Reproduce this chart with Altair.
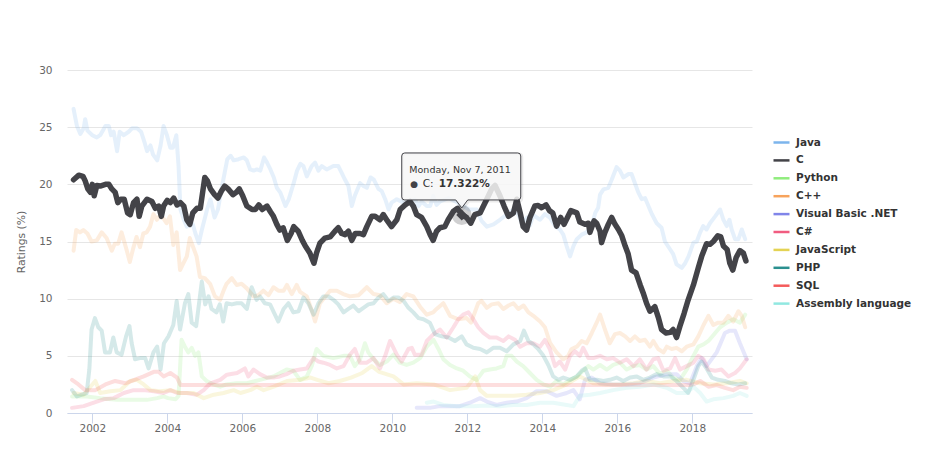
import altair as alt
import pandas as pd

# ---------------- data ----------------
NAMES = ["Java", "C", "Python", "C++", "Visual Basic .NET", "C#",
         "JavaScript", "PHP", "SQL", "Assembly language"]
COLORS = ["#7cb5ec", "#434348", "#90ed7d", "#f7a35c", "#8085e9", "#f15c80",
          "#e4d354", "#2b908f", "#f45b5b", "#91e8e1"]

X_TICKS = [2002, 2004, 2006, 2008, 2010, 2012, 2014, 2016, 2018]
Y_TICKS = [0, 5, 10, 15, 20, 25, 30]

C = [(2001.50,20.4),(2001.64,20.8),(2001.75,20.7),(2001.81,20.3),(2001.88,19.6),(2001.95,19.3),
     (2002.00,20.0),(2002.05,19.0),(2002.12,19.9),(2002.21,19.85),(2002.35,20.0),(2002.44,20.0),
     (2002.52,19.6),(2002.61,19.3),(2002.68,18.4),(2002.76,18.7),(2002.85,18.7),(2002.94,17.5),
     (2003.01,17.35),(2003.10,18.4),(2003.19,18.7),(2003.25,17.2),(2003.32,18.1),(2003.46,18.7),
     (2003.59,18.5),(2003.68,17.9),(2003.77,18.1),(2003.84,17.2),(2003.90,18.1),(2004.00,18.6),
     (2004.08,18.4),(2004.17,18.8),(2004.26,18.2),(2004.35,18.4),(2004.44,18.1),(2004.52,16.9),
     (2004.60,16.5),(2004.68,17.5),(2004.79,17.9),(2004.88,17.9),(2005.00,20.6),(2005.07,20.3),
     (2005.15,19.6),(2005.26,19.1),(2005.35,18.8),(2005.44,19.4),(2005.53,19.85),(2005.62,19.6),
     (2005.75,19.1),(2005.84,19.3),(2005.92,19.6),(2006.01,19.0),(2006.12,18.1),(2006.26,17.8),
     (2006.35,17.8),(2006.44,18.2),(2006.53,17.8),(2006.66,18.1),(2006.75,17.6),(2006.83,17.2),
     (2006.92,16.5),(2007.00,16.0),(2007.09,16.2),(2007.20,15.1),(2007.30,15.7),(2007.37,16.3),
     (2007.49,15.9),(2007.60,15.1),(2007.68,14.6),(2007.80,14.0),(2007.91,13.1),(2007.98,14.0),
     (2008.07,14.85),(2008.20,15.3),(2008.34,15.4),(2008.47,15.9),(2008.56,16.2),(2008.65,15.7),
     (2008.74,15.6),(2008.83,15.9),(2008.92,15.1),(2009.01,15.7),(2009.14,15.7),(2009.23,15.6),
     (2009.32,16.3),(2009.45,17.2),(2009.54,17.2),(2009.67,16.9),(2009.76,17.35),(2009.87,16.8),
     (2009.98,16.3),(2010.12,16.9),(2010.21,17.8),(2010.34,18.2),(2010.47,18.5),(2010.56,18.1),
     (2010.65,17.35),(2010.78,17.1),(2010.92,16.3),(2011.01,15.6),(2011.09,15.1),(2011.18,15.9),
     (2011.27,16.2),(2011.40,16.3),(2011.49,16.9),(2011.63,17.65),(2011.74,17.9),(2011.852,17.322),
     (2011.98,17.1),(2012.09,16.6),(2012.20,17.35),(2012.34,17.5),(2012.43,18.1),(2012.52,18.7),
     (2012.65,19.6),(2012.74,19.9),(2012.87,19.0),(2012.98,18.1),(2013.10,17.2),(2013.23,17.5),
     (2013.32,18.7),(2013.41,17.5),(2013.49,16.3),(2013.58,16.0),(2013.67,17.1),(2013.80,18.1),
     (2013.89,18.15),(2013.98,17.95),(2014.10,18.2),(2014.19,17.7),(2014.28,17.5),(2014.38,16.35),
     (2014.49,17.1),(2014.58,16.5),(2014.67,17.1),(2014.76,17.7),(2014.92,17.5),(2015.00,16.7),
     (2015.14,16.5),(2015.23,16.6),(2015.27,15.8),(2015.38,16.8),(2015.45,16.6),(2015.54,15.9),
     (2015.58,14.9),(2015.67,15.8),(2015.76,16.5),(2015.85,17.1),(2015.94,16.5),(2016.03,16.05),
     (2016.12,15.5),(2016.21,14.6),(2016.29,13.9),(2016.38,12.5),(2016.50,12.25),(2016.61,11.2),
     (2016.69,10.5),(2016.78,9.6),(2016.87,8.9),(2017.00,9.3),(2017.10,8.3),(2017.18,7.3),
     (2017.30,7.0),(2017.41,7.05),(2017.49,7.3),(2017.58,6.6),(2017.67,7.6),(2017.78,8.7),
     (2017.89,9.9),(2018.03,11.2),(2018.16,12.7),(2018.25,13.7),(2018.38,14.8),(2018.47,14.75),
     (2018.56,15.0),(2018.68,15.5),(2018.76,15.4),(2018.83,14.6),(2018.93,14.3),(2019.00,13.1),
     (2019.08,12.5),(2019.17,13.6),(2019.27,14.2),(2019.36,14.0),(2019.43,13.3)]

JAVA = [(2001.50,26.6),(2001.59,25.1),(2001.68,24.4),(2001.77,24.9),(2001.81,25.7),(2001.87,24.7),
        (2002.00,24.3),(2002.12,24.1),(2002.21,24.3),(2002.35,25.1),(2002.44,25.1),(2002.50,24.3),
        (2002.57,24.6),(2002.66,22.9),(2002.73,24.6),(2002.84,24.3),(2002.97,24.6),(2003.06,24.9),
        (2003.19,24.9),(2003.30,24.6),(2003.39,23.7),(2003.46,22.9),(2003.55,23.4),(2003.62,22.6),
        (2003.73,22.1),(2003.82,23.4),(2003.90,25.1),(2003.99,24.3),(2004.08,23.2),(2004.15,23.2),
        (2004.24,24.3),(2004.30,21.6),(2004.35,17.8),(2004.44,16.9),(2004.52,16.3),(2004.68,16.5),
        (2004.75,15.7),(2004.84,14.85),(2004.92,16.0),(2005.06,17.8),(2005.15,18.7),(2005.26,17.1),
        (2005.35,17.8),(2005.46,19.85),(2005.60,22.2),(2005.69,22.5),(2005.77,22.1),(2005.90,22.2),
        (2006.04,22.35),(2006.12,22.1),(2006.21,21.3),(2006.30,21.2),(2006.39,21.3),(2006.48,21.2),
        (2006.58,22.35),(2006.66,21.9),(2006.75,21.3),(2006.84,20.6),(2006.92,19.7),(2007.01,19.3),
        (2007.15,18.1),(2007.24,18.7),(2007.37,20.1),(2007.46,21.2),(2007.55,21.8),(2007.63,21.6),
        (2007.72,20.7),(2007.85,21.6),(2007.94,21.9),(2008.03,21.2),(2008.12,21.6),(2008.25,21.3),
        (2008.43,21.6),(2008.56,21.6),(2008.65,21.0),(2008.74,20.4),(2008.83,19.85),(2008.92,18.1),
        (2009.00,19.0),(2009.14,20.1),(2009.23,19.85),(2009.32,19.7),(2009.42,20.6),(2009.51,20.4),
        (2009.63,19.6),(2009.72,19.4),(2009.81,18.7),(2009.90,17.8),(2009.98,18.4),(2010.12,18.7),
        (2010.30,18.4),(2010.47,18.5),(2010.60,18.7),(2010.70,18.1),(2010.78,18.5),(2010.92,18.1),
        (2011.01,18.1),(2011.09,19.0),(2011.18,18.2),(2011.27,18.5),(2011.50,18.8),(2011.80,18.3),
        (2012.05,17.8),(2012.25,17.8),(2012.38,16.8),(2012.52,16.3),(2012.70,16.5),(2012.87,16.9),
        (2013.05,17.35),(2013.23,17.8),(2013.36,17.35),(2013.45,16.6),(2013.60,17.1),(2013.67,16.4),
        (2013.76,17.3),(2013.94,16.9),(2014.07,17.4),(2014.20,17.1),(2014.34,16.35),(2014.47,16.05),
        (2014.56,15.6),(2014.65,14.6),(2014.74,13.7),(2014.83,14.6),(2014.92,15.2),(2015.05,15.6),
        (2015.18,15.8),(2015.32,16.35),(2015.41,17.5),(2015.49,17.95),(2015.54,19.1),(2015.63,19.56),
        (2015.76,19.7),(2015.85,20.4),(2015.98,21.5),(2016.07,21.2),(2016.16,20.6),(2016.30,20.9),
        (2016.38,20.9),(2016.47,20.1),(2016.56,19.3),(2016.65,18.7),(2016.74,18.8),(2016.83,18.1),
        (2016.92,17.4),(2017.05,16.6),(2017.18,16.2),(2017.27,15.0),(2017.41,14.3),(2017.49,13.9),
        (2017.58,13.0),(2017.72,12.7),(2017.81,13.1),(2017.90,13.7),(2018.03,14.9),(2018.12,15.0),
        (2018.21,15.8),(2018.29,16.35),(2018.38,16.05),(2018.47,16.6),(2018.61,17.2),(2018.74,17.8),
        (2018.83,16.9),(2018.92,16.35),(2018.99,16.9),(2019.05,16.05),(2019.14,15.2),(2019.23,15.2),
        (2019.32,16.05),(2019.41,15.2)]

CPP = [(2001.50,14.2),(2001.57,16.0),(2001.67,15.8),(2001.76,16.0),(2001.87,15.7),(2001.98,15.0),
       (2002.12,15.1),(2002.25,15.8),(2002.38,15.3),(2002.52,14.2),(2002.60,14.8),(2002.69,14.8),
       (2002.78,15.8),(2002.92,14.2),(2003.00,13.2),(2003.09,14.4),(2003.18,15.4),(2003.27,14.5),
       (2003.36,15.7),(2003.45,15.8),(2003.54,16.3),(2003.63,17.4),(2003.72,16.9),(2003.81,17.3),
       (2003.90,17.0),(2003.98,16.6),(2004.07,17.2),(2004.16,14.7),(2004.25,15.8),(2004.34,12.5),
       (2004.43,13.1),(2004.52,13.7),(2004.60,15.3),(2004.69,14.5),(2004.78,13.7),(2004.87,11.9),
       (2005.00,11.8),(2005.14,11.3),(2005.27,10.2),(2005.41,9.9),(2005.50,10.7),(2005.58,11.3),
       (2005.72,11.8),(2005.85,11.2),(2005.98,11.3),(2006.12,10.9),(2006.30,10.2),(2006.43,10.3),
       (2006.56,10.7),(2006.70,10.3),(2006.83,11.0),(2006.96,10.7),(2007.10,10.7),(2007.19,11.2),
       (2007.32,10.4),(2007.45,11.2),(2007.54,10.6),(2007.72,10.2),(2007.85,9.0),(2007.94,8.0),
       (2008.07,9.6),(2008.34,10.7),(2008.52,10.7),(2008.69,10.4),(2008.87,10.2),(2009.10,10.3),
       (2009.32,11.0),(2009.50,10.4),(2009.67,10.3),(2009.85,9.6),(2010.03,10.0),(2010.20,9.7),
       (2010.38,10.4),(2010.56,10.2),(2010.74,9.3),(2010.92,8.6),(2011.09,8.8),(2011.18,9.1),
       (2011.36,9.6),(2011.54,8.5),(2011.76,8.2),(2011.98,8.3),(2012.10,7.9),(2012.29,9.6),
       (2012.38,9.8),(2012.52,9.2),(2012.65,9.5),(2012.83,9.6),(2012.96,9.1),(2013.10,9.4),
       (2013.23,9.6),(2013.36,9.1),(2013.50,9.4),(2013.63,8.8),(2013.76,8.5),(2013.94,8.0),
       (2014.07,7.5),(2014.21,6.1),(2014.38,5.3),(2014.56,4.7),(2014.69,5.0),(2014.78,5.6),
       (2014.92,5.8),(2015.05,6.3),(2015.18,6.1),(2015.32,7.0),(2015.45,7.9),(2015.54,8.6),
       (2015.67,7.3),(2015.80,6.1),(2015.94,6.9),(2016.07,7.0),(2016.21,6.7),(2016.34,6.3),
       (2016.47,6.7),(2016.60,6.3),(2016.74,6.4),(2016.87,5.8),(2016.96,6.3),(2017.09,5.6),
       (2017.23,5.3),(2017.32,5.8),(2017.45,5.6),(2017.58,5.7),(2017.72,5.4),(2017.85,5.8),
       (2018.03,6.0),(2018.16,6.7),(2018.30,7.7),(2018.43,8.5),(2018.56,7.7),(2018.69,7.9),
       (2018.83,7.9),(2018.96,8.5),(2019.09,8.0),(2019.23,8.9),(2019.32,8.5),(2019.41,7.5)]

PHP = [(2001.46,2.0),(2001.59,1.45),(2001.72,1.6),(2001.85,1.75),(2001.92,3.8),(2001.98,7.3),
       (2002.07,8.3),(2002.16,7.5),(2002.25,7.2),(2002.34,5.3),(2002.47,5.3),(2002.56,6.6),
       (2002.65,5.3),(2002.78,5.1),(2002.90,6.7),(2002.99,7.6),(2003.05,6.1),(2003.14,4.7),
       (2003.27,4.8),(2003.41,4.8),(2003.50,3.9),(2003.63,5.3),(2003.73,5.8),(2003.82,3.8),
       (2003.91,6.1),(2004.03,6.7),(2004.16,7.7),(2004.25,9.8),(2004.34,7.3),(2004.47,9.6),
       (2004.56,10.4),(2004.65,7.9),(2004.77,7.6),(2004.92,11.5),(2005.01,9.5),(2005.10,10.2),
       (2005.18,9.1),(2005.31,8.8),(2005.40,9.5),(2005.49,8.0),(2005.58,9.6),(2005.72,9.5),
       (2005.85,9.6),(2005.98,9.6),(2006.12,9.1),(2006.25,11.0),(2006.38,9.9),(2006.47,10.2),
       (2006.60,9.6),(2006.74,9.5),(2006.87,8.6),(2006.96,8.0),(2007.10,9.1),(2007.23,9.6),
       (2007.36,8.8),(2007.50,8.9),(2007.63,10.1),(2007.76,9.6),(2007.90,8.6),(2008.03,9.6),
       (2008.16,10.2),(2008.30,10.2),(2008.43,9.9),(2008.56,9.5),(2008.70,8.8),(2008.83,9.1),
       (2008.96,9.4),(2009.10,8.9),(2009.23,9.2),(2009.36,9.5),(2009.50,9.6),(2009.63,10.1),
       (2009.76,10.4),(2009.90,9.8),(2010.03,10.1),(2010.16,10.1),(2010.30,9.8),(2010.43,9.2),
       (2010.56,8.8),(2010.70,8.3),(2010.83,8.2),(2011.00,7.9),(2011.14,6.9),(2011.32,6.7),
       (2011.50,6.6),(2011.67,6.3),(2011.85,6.7),(2011.98,6.0),(2012.16,5.7),(2012.34,5.6),
       (2012.52,5.3),(2012.69,5.7),(2012.87,5.7),(2013.05,5.4),(2013.23,6.0),(2013.41,6.3),
       (2013.51,7.2),(2013.63,6.3),(2013.76,6.0),(2013.89,5.6),(2014.03,5.0),(2014.16,4.2),
       (2014.29,3.2),(2014.43,2.9),(2014.56,3.1),(2014.74,2.9),(2014.92,3.2),(2015.05,3.7),
       (2015.14,3.9),(2015.27,2.9),(2015.45,2.9),(2015.63,2.8),(2015.80,2.9),(2015.98,3.1),
       (2016.16,2.8),(2016.34,3.1),(2016.52,3.2),(2016.69,2.9),(2016.87,3.1),(2017.05,3.4),
       (2017.23,3.2),(2017.41,3.2),(2017.58,2.8),(2017.76,2.2),(2017.89,1.75),(2018.03,2.9),
       (2018.16,4.1),(2018.25,4.5),(2018.38,3.9),(2018.52,3.1),(2018.69,2.9),(2018.87,2.8),
       (2019.05,2.6),(2019.23,2.5),(2019.41,2.6)]

PYTHON = [(2001.46,1.45),(2001.85,1.45),(2002.21,1.3),(2002.66,1.15),(2003.10,1.15),(2003.46,1.15),
          (2003.73,1.3),(2003.90,1.45),(2004.02,1.3),(2004.22,1.2),(2004.30,1.5),(2004.38,6.4),
          (2004.47,5.8),(2004.56,5.3),(2004.65,5.7),(2004.74,5.0),(2004.83,5.3),(2004.92,3.2),
          (2005.05,2.8),(2005.23,2.5),(2005.41,2.3),(2005.58,2.5),(2005.85,2.6),(2006.12,2.6),
          (2006.47,2.9),(2006.83,3.2),(2007.18,3.8),(2007.36,3.7),(2007.54,2.9),(2007.72,3.2),
          (2007.85,4.1),(2007.98,5.6),(2008.16,5.0),(2008.43,4.8),(2008.70,5.0),(2008.87,5.0),
          (2009.00,4.1),(2009.14,4.7),(2009.27,6.1),(2009.36,5.3),(2009.50,4.7),(2009.67,4.2),
          (2009.85,4.5),(2010.03,5.1),(2010.20,4.4),(2010.38,4.2),(2010.56,4.4),(2010.74,4.8),
          (2010.92,5.8),(2011.10,6.4),(2011.23,5.6),(2011.36,4.7),(2011.54,4.2),(2011.72,3.9),
          (2011.89,3.7),(2012.07,3.2),(2012.25,2.9),(2012.43,3.7),(2012.60,3.8),(2012.78,3.9),
          (2012.96,4.1),(2013.05,5.0),(2013.18,5.0),(2013.32,4.5),(2013.49,4.1),(2013.67,3.5),
          (2013.85,2.9),(2014.03,2.5),(2014.21,2.3),(2014.38,2.8),(2014.56,2.5),(2014.74,2.9),
          (2014.92,3.2),(2015.09,3.7),(2015.23,4.1),(2015.36,3.8),(2015.54,4.2),(2015.72,3.8),
          (2015.89,4.2),(2016.07,4.4),(2016.25,3.8),(2016.43,4.1),(2016.60,4.2),(2016.78,3.8),
          (2016.96,4.1),(2017.14,3.4),(2017.32,3.7),(2017.49,3.1),(2017.67,2.9),(2017.85,3.8),
          (2018.03,5.0),(2018.16,5.8),(2018.30,6.0),(2018.43,6.3),(2018.61,7.0),(2018.74,7.5),
          (2018.92,7.9),(2019.09,8.2),(2019.27,7.9),(2019.41,8.6)]

CSHARP = [(2001.46,0.45),(2001.77,0.6),(2002.04,0.9),(2002.30,1.2),(2002.57,1.3),(2002.84,1.75),
          (2003.10,2.0),(2003.37,2.0),(2003.64,1.9),(2003.90,1.75),(2004.08,2.0),(2004.26,1.75),
          (2004.52,1.75),(2004.79,1.6),(2004.97,2.0),(2005.15,2.6),(2005.41,2.9),(2005.59,3.35),
          (2005.86,3.5),(2006.07,3.9),(2006.16,3.2),(2006.30,3.8),(2006.47,3.4),(2006.65,3.1),
          (2006.83,3.1),(2007.00,3.2),(2007.18,3.4),(2007.36,3.7),(2007.54,3.8),(2007.72,3.9),
          (2007.90,4.8),(2008.03,4.5),(2008.16,4.4),(2008.34,4.2),(2008.52,3.9),(2008.70,4.1),
          (2008.87,5.1),(2009.00,5.6),(2009.14,4.4),(2009.32,4.4),(2009.50,4.8),(2009.67,3.9),
          (2009.81,5.0),(2009.94,6.3),(2010.12,5.1),(2010.25,4.5),(2010.43,5.6),(2010.52,5.7),
          (2010.60,5.1),(2010.78,5.1),(2010.92,6.3),(2011.10,6.9),(2011.27,7.3),(2011.45,6.6),
          (2011.63,7.5),(2011.76,8.2),(2011.89,8.6),(2012.03,8.8),(2012.16,8.2),(2012.29,7.5),
          (2012.43,7.0),(2012.60,6.6),(2012.78,6.6),(2012.96,6.3),(2013.10,6.7),(2013.27,6.4),
          (2013.41,5.8),(2013.58,6.1),(2013.76,6.1),(2013.94,5.8),(2014.07,6.4),(2014.20,5.6),
          (2014.34,4.1),(2014.47,4.5),(2014.61,3.8),(2014.74,5.0),(2014.87,5.4),(2015.00,5.0),
          (2015.09,5.7),(2015.23,4.8),(2015.36,4.8),(2015.54,5.0),(2015.72,4.7),(2015.89,4.8),
          (2016.07,4.4),(2016.25,4.7),(2016.43,4.1),(2016.60,4.7),(2016.78,3.8),(2016.96,4.7),
          (2017.09,4.8),(2017.23,3.7),(2017.41,3.9),(2017.54,4.8),(2017.67,3.8),(2017.85,4.1),
          (2018.03,4.4),(2018.16,5.0),(2018.30,4.7),(2018.43,3.8),(2018.61,3.7),(2018.78,3.8),
          (2018.96,3.2),(2019.14,3.5),(2019.27,3.9),(2019.45,4.7)]

JAVASCRIPT = [(2001.50,1.75),(2001.77,1.6),(2002.08,2.8),(2002.21,1.75),(2002.48,1.9),(2002.75,2.0),
              (2003.01,2.8),(2003.19,2.9),(2003.37,2.5),(2003.55,2.0),(2003.81,1.9),(2004.08,2.0),
              (2004.35,1.75),(2004.70,1.75),(2004.97,1.3),(2005.24,1.6),(2005.50,1.75),(2005.77,2.0),
              (2005.95,1.75),(2006.21,2.0),(2006.39,2.3),(2006.57,2.0),(2006.84,2.3),(2007.19,2.8),
              (2007.55,2.9),(2007.82,3.1),(2008.00,2.9),(2008.30,2.6),(2008.60,2.8),(2008.90,3.1),
              (2009.20,3.5),(2009.45,4.1),(2009.65,3.6),(2010.03,3.2),(2010.30,2.5),(2010.65,2.6),
              (2011.10,2.5),(2011.54,2.0),(2011.98,2.2),(2012.21,3.2),(2012.34,2.0),(2012.52,1.5),
              (2012.87,1.5),(2013.23,1.5),(2013.58,1.6),(2013.94,1.75),(2014.29,2.0),(2014.65,2.5),
              (2015.00,3.2),(2015.36,2.6),(2015.72,2.5),(2016.07,2.5),(2016.43,2.6),(2016.78,2.8),
              (2017.14,2.6),(2017.49,2.8),(2017.85,2.9),(2018.21,2.6),(2018.56,2.5),(2018.92,2.6),
              (2019.27,2.8),(2019.45,2.6)]

VBNET = [(2010.65,0.45),(2011.00,0.45),(2011.27,0.6),(2011.54,0.6),(2011.80,0.6),(2012.07,0.9),
         (2012.34,1.3),(2012.52,1.0),(2012.78,0.7),(2013.05,0.9),(2013.32,1.0),(2013.58,1.3),
         (2013.85,1.9),(2014.12,1.9),(2014.38,1.5),(2014.65,1.75),(2014.83,2.0),(2015.00,1.2),
         (2015.14,2.9),(2015.32,3.1),(2015.54,2.6),(2015.89,2.5),(2016.25,2.5),(2016.60,2.6),
         (2016.96,3.1),(2017.32,3.4),(2017.58,3.4),(2017.76,2.8),(2017.94,2.6),(2018.12,4.1),
         (2018.25,4.8),(2018.38,4.1),(2018.65,5.3),(2018.87,7.0),(2019.00,7.2),(2019.14,7.2),
         (2019.27,6.1),(2019.45,4.7)]

ASSEMBLY = [(2010.92,0.9),(2011.10,1.0),(2011.36,0.7),(2011.72,0.6),(2012.16,0.6),(2012.52,0.65),
            (2012.87,0.6),(2013.23,0.7),(2013.58,0.7),(2013.94,0.9),(2014.29,0.9),(2014.65,0.7),
            (2014.83,0.6),(2015.00,1.5),(2015.27,1.6),(2015.54,1.75),(2015.89,2.0),(2016.25,2.2),
            (2016.60,2.3),(2016.96,2.5),(2017.32,2.2),(2017.58,1.75),(2017.85,1.75),(2018.03,2.3),
            (2018.21,1.75),(2018.38,1.0),(2018.56,1.2),(2018.83,1.3),(2019.09,1.5),(2019.27,1.75),
            (2019.45,1.5)]

SQL = [(2001.46,2.9),(2001.63,2.5),(2001.81,2.0),(2002.08,2.0),(2002.35,2.5),(2002.61,2.8),
       (2002.88,2.6),(2003.05,2.8),(2003.37,3.2),(2003.64,3.6),(2003.77,3.6),(2003.90,3.2),
       (2004.08,3.5),(2004.26,3.1),(2004.35,2.45),(2017.90,2.45),(2018.03,2.5),(2018.21,2.8),
       (2018.43,2.3),(2018.65,2.45),(2018.87,2.2),(2019.09,2.0),(2019.27,2.3),(2019.45,2.2)]

SERIES = {"Java": JAVA, "C": C, "Python": PYTHON, "C++": CPP, "Visual Basic .NET": VBNET,
          "C#": CSHARP, "JavaScript": JAVASCRIPT, "PHP": PHP, "SQL": SQL,
          "Assembly language": ASSEMBLY}

# hovered point and its tooltip
TIP_X = 2011.852
TIP_Y = 17.322
TIP_DATE = "Monday, Nov 7, 2011"
TIP_NAME = "C:"
TIP_VALUE = "17.322%"

# ---------------- build table ----------------
rows = []
for name in NAMES:
    for yr, v in SERIES[name]:
        rows.append({"lang": name, "year": yr, "value": v})
df = pd.DataFrame(rows)
tip = pd.DataFrame([{"year": TIP_X, "value": TIP_Y}])

FONT = "DejaVu Sans"

x_enc = alt.X("year:Q",
              scale=alt.Scale(domain=[2001.325, 2019.592], nice=False, zero=False),
              axis=alt.Axis(values=X_TICKS, format="d", title=None, grid=False,
                            domainColor="#ccd6eb", tickColor="#ccd6eb", tickSize=10,
                            labelPadding=0, labelColor="#666666", labelFontSize=10.5,
                            labelFont=FONT))
y_enc = alt.Y("value:Q",
              scale=alt.Scale(domain=[0, 30], nice=False, zero=True),
              axis=alt.Axis(values=Y_TICKS, title="Ratings (%)", grid=True,
                            gridColor="#e6e6e6", domain=False, ticks=False, tickSize=0,
                            labelPadding=15, labelColor="#666666", labelFontSize=10.5,
                            labelFont=FONT, titleColor="#666666", titleFontSize=10.8,
                            titleFontWeight="normal", titleFont=FONT, titleX=-45.3,
                            titleY=171.5, titleAngle=-90, titleAlign="center",
                            titleBaseline="middle"))
color_enc = alt.Color("lang:N", sort=NAMES,
                      scale=alt.Scale(domain=NAMES, range=COLORS),
                      legend=alt.Legend(title=None, orient="none", legendX=705, legendY=63,
                                        symbolType="stroke", symbolSize=256,
                                        symbolStrokeWidth=2.5, symbolOpacity=1,
                                        labelFont=FONT, labelFontSize=10.5,
                                        labelFontWeight="bold", labelColor="#333333",
                                        labelOffset=5, rowPadding=2.9, padding=0))

faded = alt.Chart(df[df["lang"] != "C"]).mark_line(
    strokeWidth=4, opacity=0.2, strokeCap="round", strokeJoin="round"
).encode(x=x_enc, y=y_enc, color=color_enc)

c_line = alt.Chart(df[df["lang"] == "C"]).mark_line(
    strokeWidth=5.5, strokeCap="round", strokeJoin="round"
).encode(x=x_enc, y=y_enc, color=color_enc)

halo = alt.Chart(tip).mark_point(shape="circle", size=400, filled=True,
                                 color="#434348", opacity=0.25).encode(x="year:Q", y="value:Q")
diamond = alt.Chart(tip).mark_point(shape="diamond", size=121, filled=True,
                                    color="#434348", opacity=1).encode(x="year:Q", y="value:Q")

BOX = ("M-0.95,-1.033 L0.933,-1.033 Q0.983,-1.033 0.983,-0.983 L0.983,-0.3 "
       "Q0.983,-0.25 0.933,-0.25 L0.1,-0.25 L0,-0.117 L-0.1,-0.25 L-0.95,-0.25 "
       "Q-1.0,-0.25 -1.0,-0.3 L-1.0,-0.983 Q-1.0,-1.033 -0.95,-1.033 Z")
SHADOW = ("M-0.933,-1.017 L0.95,-1.017 Q1.0,-1.017 1.0,-0.967 L1.0,-0.283 "
          "Q1.0,-0.233 0.95,-0.233 L0.117,-0.233 L0.017,-0.1 L-0.083,-0.233 L-0.933,-0.233 "
          "Q-0.983,-0.233 -0.983,-0.283 L-0.983,-0.967 Q-0.983,-1.017 -0.933,-1.017 Z")

shadow = alt.Chart(tip).mark_point(shape=SHADOW, size=14400, filled=False,
                                   stroke="#000000", strokeWidth=3, strokeOpacity=0.08,
                                   opacity=1).encode(x="year:Q", y="value:Q")
box = alt.Chart(tip).mark_point(shape=BOX, size=14400, filled=True, fill="#f7f7f7",
                                fillOpacity=0.85, stroke="#434348", strokeWidth=1,
                                strokeOpacity=1, opacity=1).encode(x="year:Q", y="value:Q")

t_date = alt.Chart(tip).mark_text(text=TIP_DATE, align="left", baseline="alphabetic",
                                  dx=-52.4, dy=-41.7, font=FONT, fontSize=9.5,
                                  color="#333333").encode(x="year:Q", y="value:Q")
t_dot = alt.Chart(tip).mark_text(text="\u25cf", align="left", baseline="alphabetic",
                                 dx=-51.5, dy=-27.7, font=FONT, fontSize=9,
                                 color="#434348").encode(x="year:Q", y="value:Q")
t_name = alt.Chart(tip).mark_text(text=TIP_NAME, align="left", baseline="alphabetic",
                                  dx=-39, dy=-27.7, font=FONT, fontSize=10.5,
                                  color="#333333").encode(x="year:Q", y="value:Q")
t_val = alt.Chart(tip).mark_text(text=TIP_VALUE, align="left", baseline="alphabetic",
                                 dx=-23, dy=-27.7, font=FONT, fontSize=10.5,
                                 fontWeight="bold", color="#333333").encode(x="year:Q", y="value:Q")

chart = alt.layer(faded, c_line, halo, diamond, shadow, box, t_date, t_dot, t_name, t_val).properties(
    width=685, height=343,
    autosize=alt.AutoSizeParams(type="none"),
    padding={"left": 59, "top": 62, "right": 168, "bottom": 29},
).configure(font=FONT).configure_view(strokeWidth=0)

chart.save("out.html", embed_options={"renderer": "svg", "actions": False})
